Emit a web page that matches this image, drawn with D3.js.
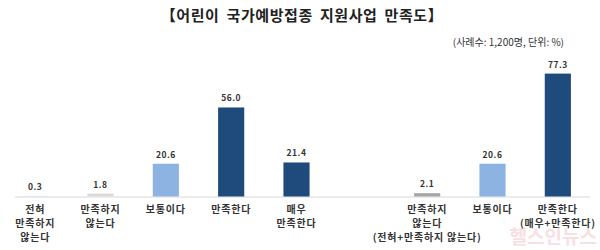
<!DOCTYPE html>
<html>
<head>
<meta charset="utf-8">
<script src="https://cdn.jsdelivr.net/npm/d3@7"></script>
<style>
  body { margin: 0; background: #fff; }
  svg text { font-family: "Noto Sans CJK KR", "Noto Sans", sans-serif; }
</style>
</head>
<body>
<div id="chart"></div>
<script>
// chart values
var categories = [
    ["전혀", "만족하지", "않는다"],
    ["만족하지", "않는다"],
    ["보통이다"],
    ["만족한다"],
    ["매우", "만족한다"],
    null,
    ["만족하지", "않는다", "(전혀+만족하지 않는다)"],
    ["보통이다"],
    ["만족한다", "(매우+만족한다)"]
];
var values = [0.3, 1.8, 20.6, 56.0, 21.4, null, 2.1, 20.6, 77.3];
var barColors = ["#dfe5ef", "#d9d9d9", "#8db3e2", "#1f4a7c", "#1f4a7c", null, "#a6a6a6", "#8db3e2", "#1f4a7c"];

var width = 600,
    height = 250,
    baseline = 196.5;

var svg = d3.select("#chart").append("svg")
    .attr("width", width)
    .attr("height", height);

//title + note
svg.append("text")
    .attr("x", 302)
    .attr("y", 21)
    .attr("text-anchor", "middle")
    .style("font-size", "15px")
    .style("font-weight", "bold")
    .style("letter-spacing", "0.6px")
    .style("word-spacing", "3px")
    .style("fill", "#222")
    .text("【어린이 국가예방접종 지원사업 만족도】");

svg.append("text")
    .attr("x", 564)
    .attr("y", 46)
    .attr("text-anchor", "end")
    .style("font-size", "10px")
    .style("fill", "#333")
    .text("(사례수: 1,200명, 단위: %)");

var x = d3.scaleBand()
    .domain(d3.range(values.length))
    .range([2.5, 590.5])
    .paddingInner(0.6)
    .paddingOuter(0.3);

var y = d3.scaleLinear()
    .domain([0, 100])
    .range([baseline, baseline - 159]);

var items = values.map(function (v, i) {
    return { value: v, color: barColors[i], label: categories[i], i: i };
}).filter(function (d) { return d.value !== null; });

//axis line
svg.append("line")
    .attr("x1", 15)
    .attr("x2", 590)
    .attr("y1", baseline + 0.5)
    .attr("y2", baseline + 0.5)
    .style("stroke", "#d9d9d9")
    .style("stroke-width", 1);

svg.append("g").selectAll("rect")
    .data(items)
    .enter()
    .append("rect")
    .attr("x", function (d) { return x(d.i); })
    .attr("width", x.bandwidth())
    .attr("y", function (d) { return y(d.value); })
    .attr("height", function (d) { return Math.max(baseline - y(d.value), 1); })
    .style("fill", function (d) { return d.color; });

svg.append("g").selectAll("text")
    .data(items)
    .enter()
    .append("text")
    .attr("x", function (d) { return x(d.i) + x.bandwidth() / 2; })
    .attr("y", function (d) { return y(d.value) - 6; })
    .attr("text-anchor", "middle")
    .style("font-size", "8.5px")
    .style("font-weight", "bold")
    .style("letter-spacing", "0.5px")
    .style("fill", "#333")
    .text(function (d) { return d3.format(".1f")(d.value); });

var labels = svg.append("g").selectAll("text")
    .data(items)
    .enter()
    .append("text")
    .attr("x", function (d) { return x(d.i) + x.bandwidth() / 2; })
    .attr("y", 213)
    .attr("text-anchor", "middle")
    .style("font-size", "10px")
    .style("font-weight", "bold")
    .style("letter-spacing", "0.8px")
    .style("fill", "#333");

labels.selectAll("tspan")
    .data(function (d) {
        return d.label.map(function (t) { return { t: t, cx: x(d.i) + x.bandwidth() / 2 }; });
    })
    .enter()
    .append("tspan")
    .attr("x", function (d) { return d.cx; })
    .attr("dy", function (d, j) { return j === 0 ? 0 : 14; })
    .text(function (d) { return d.t; });

//watermark
svg.append("text")
    .attr("x", 597)
    .attr("y", 244)
    .attr("text-anchor", "end")
    .style("font-size", "19px")
    .style("font-weight", "bold")
    .style("fill", "#f6d3d6")
    .style("opacity", 0.7)
    .text("헬스인뉴스");
</script>
</body>
</html>
